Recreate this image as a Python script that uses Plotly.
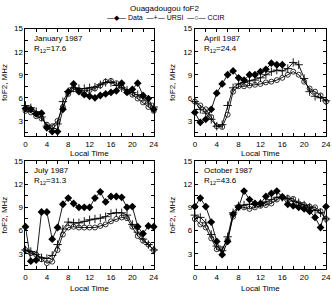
import plotly.graph_objects as go

hours = list(range(25))

months = ["January 1987", "April 1987", "July 1987", "October 1987"]
r12 = ["17.6", "24.4", "31.3", "43.6"]

jan_data = [4.6, 4.5, 3.9, 4.0, 2.1, 1.6, 1.6, 4.5, 6.8, 7.8, 6.8, 6.4, 6.2, 6.0, 6.3, 6.5, 6.7, 6.9, 7.9, 6.7, 7.1, 7.9, 6.3, 5.9, 4.5]
jan_ursi = [5.0, 4.7, 4.2, 3.5, 2.3, 2.0, 2.6, 5.5, 6.8, 7.3, 7.2, 7.2, 7.3, 7.4, 7.7, 8.0, 8.0, 7.6, 7.3, 7.0, 6.7, 6.4, 6.0, 5.3, 4.8]
jan_ccir = [4.3, 4.1, 3.6, 3.3, 2.5, 2.3, 3.0, 4.8, 6.5, 7.1, 7.0, 6.9, 7.0, 7.2, 7.6, 8.1, 8.2, 7.9, 7.4, 6.8, 6.4, 5.9, 5.4, 4.8, 4.3]

apr_data = [4.1, 2.8, 3.2, 4.5, 6.6, 7.8, 9.0, 9.5, 8.6, 8.3, 9.0, 9.0, 9.4, 9.7, 10.5, 10.3, 10.3, None, None, None, None, None, None, None, None]
apr_ursi = [5.5, 4.5, 4.0, 3.2, 2.3, 2.5, 5.0, 7.3, 7.8, 8.0, 8.2, 8.3, 8.6, 9.0, 9.4, 9.6, 9.5, 9.8, 10.6, 10.3, 8.5, 6.8, 6.2, 6.0, 5.6]
apr_ccir = [5.5, 5.0, 4.5, 3.5, 2.3, 2.2, 3.8, 6.8, 7.5, 7.5, 7.6, 7.7, 7.8, 8.0, 8.1, 8.3, 8.6, 9.0, 9.4, 9.0, 8.1, 7.2, 6.8, 6.3, 5.5]

jul_data = [6.5, 2.05, 2.2, 8.4, 8.4, 4.9, 6.4, 9.4, 10.2, 9.5, 9.0, 9.0, 9.0, 10.2, 11.0, 9.7, 10.4, 10.4, 10.3, 9.0, 9.1, 6.5, 5.6, 6.6, 6.5]
jul_ursi = [3.5, 3.3, 2.9, 2.5, 2.4, 2.8, 4.2, 6.2, 7.1, 7.0, 7.0, 7.2, 7.4, 7.5, 7.6, 7.8, 8.2, 8.3, 8.3, 8.0, 6.8, 5.8, 4.9, 4.2, 3.5]
jul_ccir = [3.5, 3.1, 2.9, 2.3, 1.8, 2.0, 3.5, 5.5, 6.4, 6.5, 6.4, 6.4, 6.4, 6.4, 6.6, 6.8, 7.2, 7.5, 7.7, 7.6, 6.5, 5.3, 4.7, 4.2, 3.5]

oct_data = [9.1, 10.2, 9.1, 7.1, 4.6, 2.9, 4.6, 8.1, 9.0, 11.1, 10.0, 9.5, 9.5, 10.4, 10.8, 11.1, 10.3, 9.4, 9.2, 9.0, 8.8, 8.5, 7.7, 6.4, 9.1]
oct_ursi = [8.0, 7.7, 7.0, 5.5, 4.0, 3.4, 5.2, 8.3, 9.2, 9.3, 9.4, 9.4, 9.5, 9.7, 10.0, 10.3, 10.3, 10.1, 9.8, 9.6, 9.3, 9.0, 8.6, 8.3, 7.5]
oct_ccir = [7.5, 6.8, 6.4, 5.0, 3.6, 3.6, 4.8, 7.8, 9.1, 9.0, 8.8, 9.0, 9.2, 9.3, 9.5, 10.0, 10.4, 10.2, 10.1, 9.5, 9.3, 9.1, 9.0, 8.5, 7.5]

panels = [
    (jan_data, jan_ursi, jan_ccir),
    (apr_data, apr_ursi, apr_ccir),
    (jul_data, jul_ursi, jul_ccir),
    (oct_data, oct_ursi, oct_ccir),
]

W, H = 332, 296
# pixel boxes: (x0, x1, ytop, ybottom)
boxes = [(24, 155, 25, 134), (197, 331, 25, 134), (24, 155, 159, 269), (197, 331, 159, 269)]
xtitle_y = [151.5, 151.5, 288, 288]

FONT = "Liberation Sans, Arial, sans-serif"
fig = go.Figure()
layout = dict(
    width=W, height=H, margin=dict(l=0, r=0, t=0, b=0),
    paper_bgcolor="white", plot_bgcolor="white",
    font=dict(family=FONT, size=8, color="black"),
    showlegend=False,
)

names = ["Data", "URSI", "CCIR"]
styles = [
    dict(symbol="diamond", size=6, color="black", line=dict(width=0)),
    dict(symbol="cross-thin-open", size=6, color="black", line=dict(width=0.9, color="black")),
    dict(symbol="circle-open", size=5, color="black", line=dict(width=0.8, color="black")),
]

annotations = [
    dict(text="Ouagadougou foF2", x=0.5, y=1 - 5 / H, xref="paper", yref="paper",
         xanchor="center", yanchor="middle", showarrow=False, font=dict(size=8)),
    dict(text="\u2014\u25c6\u2014 Data  \u2014+\u2014 URSI  \u2014\u25cb\u2014 CCIR", x=168 / W, y=1 - 14 / H,
         xref="paper", yref="paper", xanchor="center", yanchor="middle", showarrow=False,
         font=dict(size=7)),
]

for i, (box, series) in enumerate(zip(boxes, panels)):
    x0, x1, yt, yb = box
    idx = "" if i == 0 else str(i + 1)
    xa, ya = "xaxis" + idx, "yaxis" + idx
    xr, yr = "x" + idx, "y" + idx
    layout[xa] = dict(
        domain=[x0 / W, x1 / W], anchor=yr, range=[0, 24], tickvals=[0, 4, 8, 12, 16, 20, 24],
        ticks="inside", ticklen=3, tickwidth=1, tickcolor="black",
        minor=dict(dtick=2, ticks="inside", ticklen=3, tickcolor="black"),
        showline=True, linecolor="black", linewidth=1, mirror="allticks",
        showgrid=False, zeroline=False, tickfont=dict(size=8),
    )
    layout[ya] = dict(
        domain=[1 - yb / H, 1 - yt / H], anchor=xr, range=[1, 15], tickvals=[3, 6, 9, 12, 15],
        ticks="inside", ticklen=3, tickwidth=1, tickcolor="black",
        minor=dict(tickvals=[1.5, 4.5, 7.5, 10.5, 13.5], ticks="inside", ticklen=3, tickcolor="black"),
        showline=True, linecolor="black", linewidth=1, mirror="allticks",
        showgrid=False, zeroline=False, tickfont=dict(size=8),
        title=dict(text="foF2, MHz", font=dict(size=8), standoff=6),
    )
    for j, (name, st, ys) in enumerate(zip(names, styles, series)):
        fig.add_trace(go.Scatter(
            x=hours, y=ys, mode="lines+markers", name=name, xaxis=xr, yaxis=yr,
            line=dict(color="black", width=0.9), marker=st, showlegend=False,
            cliponaxis=False,
        ))
    annotations.append(dict(text="Local Time", x=(x0 + x1) / 2 / W, y=1 - xtitle_y[i] / H,
                            xref="paper", yref="paper", xanchor="center", yanchor="middle",
                            showarrow=False, font=dict(size=8)))
    annotations.append(dict(text=months[i], x=1.3, y=13.7, xref=xr, yref=yr,
                            xanchor="left", yanchor="middle", showarrow=False, font=dict(size=8)))
    annotations.append(dict(text="R<sub>12</sub>=" + r12[i], x=1.3, y=12.4, xref=xr, yref=yr,
                            xanchor="left", yanchor="middle", showarrow=False, font=dict(size=8)))

layout["annotations"] = annotations
fig.update_layout(**layout)
fig.write_html("out.html")
